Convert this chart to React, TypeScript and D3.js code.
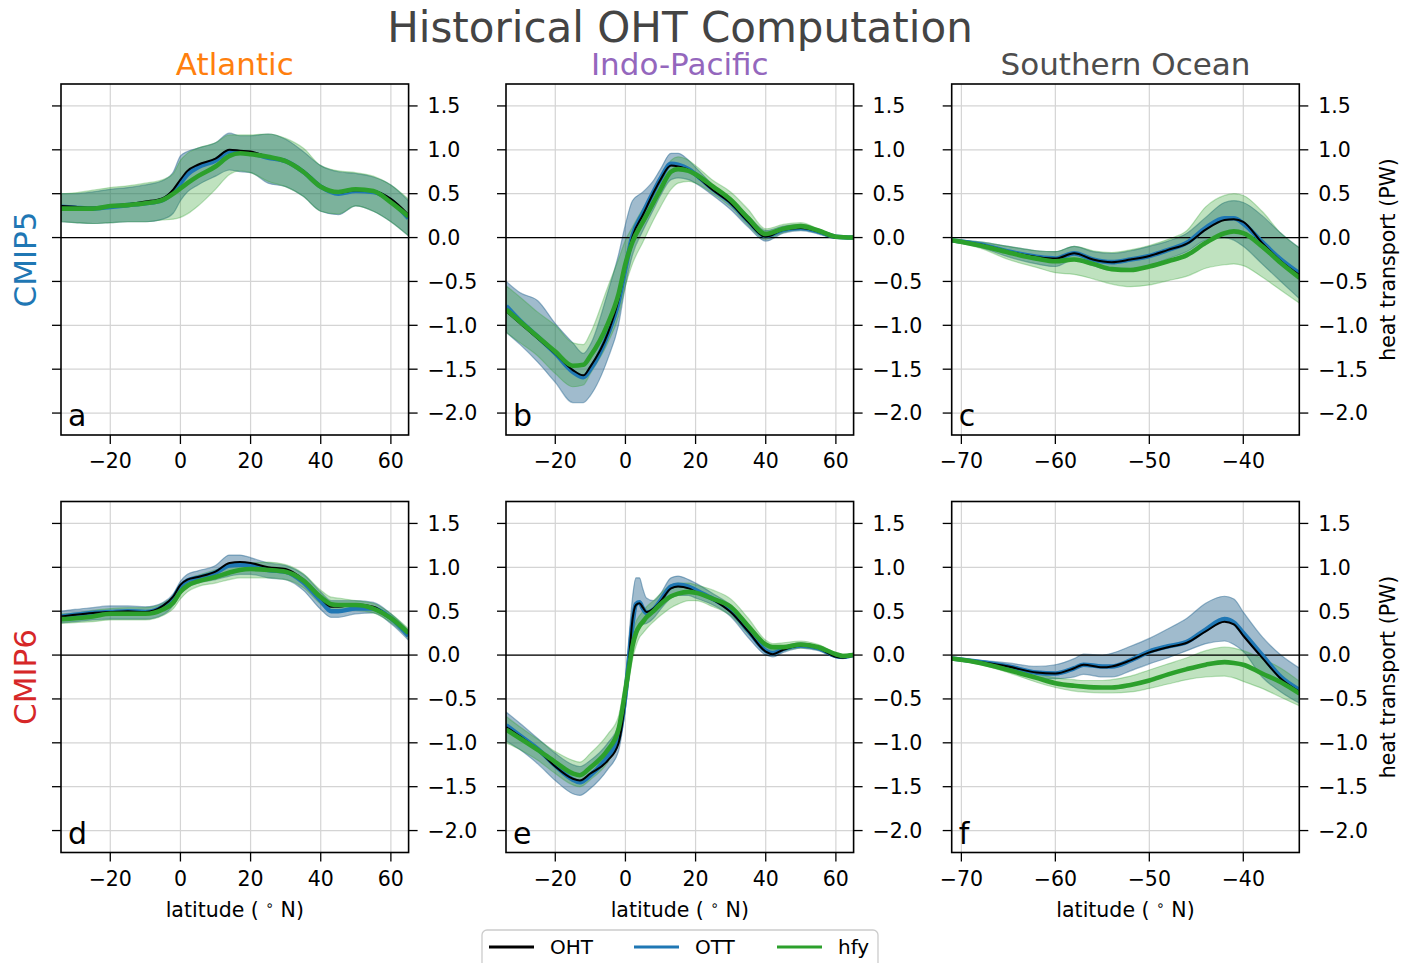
import { useRef, useEffect } from "react"
import * as d3 from "d3"

// ---- latitude grids (deg N) ----
const latA5 = [-34, -30, -25, -20, -15, -10, -5, -2, 0, 2, 5, 10, 14, 17, 20, 25, 30, 35, 40, 45, 50, 55, 60, 65]
const latA6 = [-34, -30, -25, -20, -15, -10, -5, -2, 0, 2, 5, 10, 14, 17, 20, 25, 30, 35, 40, 43, 45, 50, 55, 60, 65]
const latP5 = [-34, -30, -25, -20, -15, -12, -10, -5, -2, 0, 2, 5, 8, 10, 13, 15, 18, 20, 25, 30, 35, 40, 45, 50, 55, 60, 65]
const latP6 = [-34, -30, -25, -20, -15, -13, -10, -5, -2, 0, 1, 2, 3, 4, 5, 6, 8, 10, 13, 15, 18, 20, 25, 30, 35, 40, 42, 45, 50, 55, 60, 62, 65]
const latS5 = [-71, -68, -65, -62, -60, -58, -56, -54, -52, -50, -48, -46, -44, -42, -41, -40, -38, -36, -34]
const latS6 = [-71, -68, -65, -62, -60, -58, -57, -55, -54, -52, -50, -48, -46, -44, -42, -41, -40, -38, -36, -34]

// ---- CMIP5 Atlantic (a) ----
const ohtA5 = [0.36, 0.35, 0.34, 0.36, 0.38, 0.41, 0.45, 0.55, 0.66, 0.76, 0.83, 0.9, 1.0, 0.99, 0.98, 0.92, 0.88, 0.76, 0.59, 0.51, 0.54, 0.53, 0.44, 0.26]
const ottA5 = [0.35, 0.34, 0.33, 0.35, 0.37, 0.39, 0.43, 0.52, 0.62, 0.72, 0.8, 0.88, 0.98, 0.97, 0.96, 0.91, 0.87, 0.75, 0.58, 0.5, 0.53, 0.52, 0.42, 0.22]
const hfyA5 = [0.33, 0.33, 0.33, 0.36, 0.37, 0.39, 0.43, 0.5, 0.56, 0.62, 0.7, 0.81, 0.93, 0.96, 0.95, 0.92, 0.87, 0.75, 0.58, 0.52, 0.55, 0.53, 0.4, 0.24]
const modelHiA5 = [0.5, 0.5, 0.52, 0.55, 0.57, 0.6, 0.65, 0.75, 0.93, 0.98, 1.02, 1.08, 1.19, 1.16, 1.16, 1.18, 1.12, 0.98, 0.82, 0.75, 0.73, 0.69, 0.6, 0.42]
const modelLoA5 = [0.18, 0.17, 0.16, 0.17, 0.18, 0.18, 0.21, 0.28, 0.42, 0.52, 0.6, 0.7, 0.77, 0.75, 0.74, 0.62, 0.58, 0.47, 0.3, 0.26, 0.36, 0.3, 0.18, 0.02]
const hfyHiA5 = [0.5, 0.51, 0.54, 0.57, 0.59, 0.62, 0.66, 0.73, 0.88, 0.96, 1.02, 1.08, 1.17, 1.17, 1.17, 1.18, 1.13, 1.02, 0.82, 0.76, 0.74, 0.7, 0.6, 0.44]
const hfyLoA5 = [0.18, 0.17, 0.16, 0.17, 0.18, 0.18, 0.2, 0.21, 0.23, 0.27, 0.36, 0.55, 0.72, 0.76, 0.74, 0.64, 0.58, 0.47, 0.3, 0.27, 0.36, 0.3, 0.18, 0.02]

// ---- CMIP5 Indo-Pacific (b) ----
const ohtP5 = [-0.84, -0.98, -1.15, -1.32, -1.51, -1.57, -1.47, -1.09, -0.71, -0.33, 0.01, 0.26, 0.51, 0.66, 0.82, 0.81, 0.77, 0.71, 0.54, 0.39, 0.18, 0.01, 0.09, 0.11, 0.07, 0.0, 0.0]
const ottP5 = [-0.78, -0.95, -1.13, -1.32, -1.53, -1.59, -1.5, -1.1, -0.74, -0.35, 0.02, 0.28, 0.52, 0.67, 0.84, 0.83, 0.78, 0.72, 0.55, 0.4, 0.19, 0.02, 0.09, 0.11, 0.07, 0.01, 0.0]
const hfyP5 = [-0.82, -0.96, -1.13, -1.3, -1.46, -1.45, -1.35, -0.98, -0.65, -0.3, -0.05, 0.18, 0.4, 0.55, 0.75, 0.78, 0.76, 0.72, 0.58, 0.43, 0.22, 0.04, 0.1, 0.13, 0.08, 0.01, 0.0]
const modelHiP5 = [-0.5, -0.63, -0.72, -0.98, -1.2, -1.32, -1.22, -0.62, -0.2, 0.15, 0.42, 0.52, 0.65, 0.78, 0.96, 0.96, 0.88, 0.8, 0.6, 0.45, 0.25, 0.08, 0.13, 0.15, 0.09, 0.02, 0.01]
const modelLoP5 = [-1.08, -1.22, -1.42, -1.65, -1.88, -1.88, -1.8, -1.38, -1.0, -0.55, -0.2, 0.08, 0.32, 0.48, 0.66, 0.68, 0.66, 0.62, 0.48, 0.32, 0.12, -0.04, 0.05, 0.08, 0.04, -0.01, -0.01]
const hfyHiP5 = [-0.55, -0.68, -0.85, -1.0, -1.2, -1.22, -1.09, -0.56, -0.25, -0.03, 0.12, 0.33, 0.5, 0.65, 0.88, 0.92, 0.88, 0.82, 0.65, 0.52, 0.32, 0.1, 0.15, 0.17, 0.1, 0.02, 0.01]
const hfyLoP5 = [-1.08, -1.2, -1.35, -1.55, -1.7, -1.68, -1.55, -1.2, -0.9, -0.55, -0.3, -0.05, 0.2, 0.35, 0.55, 0.62, 0.64, 0.62, 0.5, 0.35, 0.14, -0.02, 0.06, 0.09, 0.05, -0.01, -0.01]

// ---- CMIP5 Southern Ocean (c) ----
const ohtS5 = [-0.03, -0.08, -0.16, -0.22, -0.24, -0.18, -0.25, -0.28, -0.25, -0.21, -0.14, -0.07, 0.09, 0.2, 0.21, 0.18, -0.06, -0.27, -0.43]
const ottS5 = [-0.03, -0.08, -0.16, -0.22, -0.24, -0.18, -0.25, -0.28, -0.25, -0.21, -0.14, -0.06, 0.11, 0.22, 0.22, 0.16, -0.05, -0.25, -0.41]
const hfyS5 = [-0.03, -0.09, -0.17, -0.24, -0.27, -0.25, -0.3, -0.36, -0.37, -0.33, -0.27, -0.2, -0.06, 0.05, 0.07, 0.05, -0.1, -0.29, -0.46]
const modelHiS5 = [-0.02, -0.05, -0.1, -0.15, -0.16, -0.1, -0.16, -0.18, -0.15, -0.1, -0.04, 0.05, 0.23, 0.4, 0.42, 0.4, 0.25, 0.05, -0.12]
const modelLoS5 = [-0.04, -0.11, -0.22, -0.3, -0.33, -0.25, -0.32, -0.37, -0.36, -0.32, -0.24, -0.16, -0.03, 0.0, -0.03, -0.1, -0.3, -0.5, -0.7]
const hfyHiS5 = [-0.02, -0.05, -0.1, -0.15, -0.16, -0.1, -0.15, -0.17, -0.14, -0.09, -0.02, 0.08, 0.35, 0.48, 0.5, 0.48, 0.3, 0.05, -0.12]
const hfyLoS5 = [-0.05, -0.12, -0.25, -0.34, -0.4, -0.42, -0.47, -0.53, -0.56, -0.54, -0.49, -0.44, -0.35, -0.31, -0.3, -0.32, -0.45, -0.6, -0.75]

// ---- CMIP6 Atlantic (d) ----
const ohtA6 = [0.44, 0.46, 0.48, 0.49, 0.5, 0.49, 0.56, 0.67, 0.8, 0.86, 0.89, 0.95, 1.05, 1.06, 1.05, 1.0, 0.98, 0.86, 0.65, 0.55, 0.55, 0.58, 0.55, 0.42, 0.25]
const ottA6 = [0.44, 0.46, 0.48, 0.49, 0.5, 0.49, 0.55, 0.65, 0.78, 0.85, 0.88, 0.94, 1.02, 1.03, 1.02, 0.97, 0.95, 0.83, 0.62, 0.5, 0.5, 0.53, 0.53, 0.42, 0.22]
const hfyA6 = [0.41, 0.42, 0.44, 0.47, 0.47, 0.47, 0.52, 0.6, 0.72, 0.79, 0.84, 0.89, 0.94, 0.97, 0.98, 0.97, 0.95, 0.85, 0.66, 0.58, 0.57, 0.57, 0.53, 0.42, 0.25]
const modelHiA6 = [0.5, 0.52, 0.54, 0.56, 0.56, 0.55, 0.6, 0.7, 0.84, 0.92, 0.96, 1.02, 1.14, 1.14, 1.11, 1.05, 1.02, 0.92, 0.72, 0.62, 0.62, 0.62, 0.6, 0.47, 0.28]
const modelLoA6 = [0.37, 0.38, 0.4, 0.41, 0.41, 0.41, 0.46, 0.57, 0.7, 0.77, 0.82, 0.86, 0.9, 0.92, 0.92, 0.88, 0.86, 0.74, 0.52, 0.43, 0.43, 0.47, 0.48, 0.36, 0.17]
const hfyHiA6 = [0.47, 0.48, 0.51, 0.53, 0.54, 0.54, 0.59, 0.67, 0.78, 0.86, 0.91, 0.97, 1.02, 1.04, 1.05, 1.06, 1.03, 0.93, 0.74, 0.66, 0.65, 0.62, 0.59, 0.47, 0.3]
const hfyLoA6 = [0.36, 0.37, 0.38, 0.4, 0.4, 0.4, 0.45, 0.53, 0.64, 0.72, 0.78, 0.82, 0.86, 0.88, 0.88, 0.88, 0.86, 0.77, 0.58, 0.5, 0.5, 0.51, 0.48, 0.37, 0.2]

// ---- CMIP6 Indo-Pacific (e) ----
const ohtP6 = [-0.82, -0.93, -1.08, -1.27, -1.41, -1.43, -1.35, -1.2, -1.01, -0.48, -0.06, 0.4, 0.57, 0.59, 0.54, 0.49, 0.53, 0.61, 0.76, 0.78, 0.76, 0.72, 0.63, 0.49, 0.27, 0.04, 0.01, 0.06, 0.11, 0.08, -0.02, -0.03, 0.0]
const ottP6 = [-0.8, -0.92, -1.07, -1.26, -1.42, -1.45, -1.37, -1.15, -0.95, -0.45, -0.05, 0.35, 0.58, 0.6, 0.53, 0.48, 0.52, 0.62, 0.78, 0.8, 0.78, 0.74, 0.64, 0.51, 0.28, 0.05, 0.02, 0.07, 0.11, 0.08, -0.01, -0.02, 0.0]
const hfyP6 = [-0.85, -0.95, -1.08, -1.22, -1.35, -1.37, -1.28, -1.08, -0.85, -0.4, -0.15, 0.1, 0.25, 0.33, 0.38, 0.43, 0.5, 0.58, 0.67, 0.7, 0.72, 0.71, 0.64, 0.55, 0.33, 0.12, 0.09, 0.09, 0.12, 0.09, 0.01, -0.01, 0.0]
const modelHiP6 = [-0.65, -0.78, -0.95, -1.12, -1.25, -1.27, -1.2, -1.0, -0.8, -0.3, 0.2, 0.65, 0.88, 0.88, 0.75, 0.65, 0.62, 0.7, 0.88, 0.9, 0.86, 0.82, 0.7, 0.57, 0.35, 0.1, 0.06, 0.1, 0.14, 0.1, 0.01, 0.0, 0.01]
const modelLoP6 = [-0.98, -1.08, -1.24, -1.43, -1.58, -1.6, -1.52, -1.3, -1.1, -0.6, -0.25, 0.05, 0.25, 0.32, 0.35, 0.36, 0.42, 0.52, 0.65, 0.68, 0.68, 0.65, 0.57, 0.44, 0.2, 0.0, -0.02, 0.03, 0.08, 0.05, -0.03, -0.04, -0.01]
const hfyHiP6 = [-0.7, -0.82, -0.96, -1.1, -1.2, -1.22, -1.12, -0.9, -0.7, -0.25, 0.0, 0.25, 0.38, 0.45, 0.5, 0.55, 0.62, 0.7, 0.8, 0.82, 0.82, 0.8, 0.74, 0.64, 0.42, 0.17, 0.13, 0.14, 0.16, 0.12, 0.03, 0.01, 0.01]
const hfyLoP6 = [-1.0, -1.08, -1.2, -1.35, -1.48, -1.5, -1.42, -1.22, -1.0, -0.55, -0.3, -0.05, 0.1, 0.2, 0.25, 0.3, 0.38, 0.45, 0.54, 0.58, 0.62, 0.62, 0.55, 0.45, 0.24, 0.06, 0.04, 0.05, 0.08, 0.06, -0.01, -0.02, -0.01]

// ---- CMIP6 Southern Ocean (f) ----
const ohtS6 = [-0.04, -0.08, -0.13, -0.2, -0.21, -0.15, -0.11, -0.14, -0.13, -0.06, 0.03, 0.09, 0.14, 0.27, 0.38, 0.35, 0.22, -0.03, -0.27, -0.42]
const ottS6 = [-0.04, -0.08, -0.13, -0.2, -0.21, -0.15, -0.11, -0.13, -0.13, -0.06, 0.04, 0.1, 0.15, 0.29, 0.41, 0.37, 0.25, 0.0, -0.25, -0.4]
const hfyS6 = [-0.04, -0.09, -0.17, -0.26, -0.32, -0.35, -0.36, -0.37, -0.37, -0.34, -0.29, -0.22, -0.16, -0.11, -0.08, -0.09, -0.11, -0.21, -0.31, -0.44]
const modelHiS6 = [-0.03, -0.06, -0.09, -0.13, -0.11, -0.04, 0.01, 0.0, 0.02, 0.1, 0.19, 0.3, 0.42, 0.59, 0.67, 0.64, 0.49, 0.21, 0.0, -0.15]
const modelLoS6 = [-0.05, -0.1, -0.17, -0.26, -0.27, -0.25, -0.22, -0.25, -0.25, -0.18, -0.1, -0.03, 0.05, 0.13, 0.16, 0.12, 0.04, -0.25, -0.42, -0.55]
const hfyHiS6 = [-0.03, -0.07, -0.13, -0.21, -0.26, -0.28, -0.29, -0.29, -0.28, -0.24, -0.17, -0.1, -0.03, 0.05, 0.09, 0.08, 0.05, -0.04, -0.15, -0.3]
const hfyLoS6 = [-0.05, -0.11, -0.2, -0.31, -0.37, -0.41, -0.42, -0.43, -0.43, -0.42, -0.38, -0.33, -0.28, -0.25, -0.24, -0.26, -0.3, -0.38, -0.48, -0.58]

// ---- labels / ticks ----
const basinTitles = ["Atlantic", "Indo-Pacific", "Southern Ocean"]
const basinColors = ["#ff7f0e", "#9467bd", "#4d4d4d"]
const rowTitles = ["CMIP5", "CMIP6"]
const rowColors = ["#1f77b4", "#d62728"]
const panelLetters = ["a", "b", "c", "d", "e", "f"]
const legendLabels = ["OHT", "OTT", "hfy"]
const yTicks = [-2, -1.5, -1, -0.5, 0, 0.5, 1, 1.5]
const xTicksBasin = [-20, 0, 20, 40, 60]
const xTicksSO = [-70, -60, -50, -40]

type Pt = { x: number; y: number }

export default function App() {
  const svgRef = useRef<SVGSVGElement | null>(null)

  useEffect(() => {
    if (!svgRef.current) return
    const svg = d3.select(svgRef.current)
    svg.selectAll("*").remove()

    const font = "DejaVu Sans, sans-serif"
    const small = 20.5
    const lineColors = ["#000000", "#1f77b4", "#2ca02c"]

    const panels = [
      { lat: latA5, oht: ohtA5, ott: ottA5, hfy: hfyA5, mLo: modelLoA5, mHi: modelHiA5, hLo: hfyLoA5, hHi: hfyHiA5 },
      { lat: latP5, oht: ohtP5, ott: ottP5, hfy: hfyP5, mLo: modelLoP5, mHi: modelHiP5, hLo: hfyLoP5, hHi: hfyHiP5 },
      { lat: latS5, oht: ohtS5, ott: ottS5, hfy: hfyS5, mLo: modelLoS5, mHi: modelHiS5, hLo: hfyLoS5, hHi: hfyHiS5 },
      { lat: latA6, oht: ohtA6, ott: ottA6, hfy: hfyA6, mLo: modelLoA6, mHi: modelHiA6, hLo: hfyLoA6, hHi: hfyHiA6 },
      { lat: latP6, oht: ohtP6, ott: ottP6, hfy: hfyP6, mLo: modelLoP6, mHi: modelHiP6, hLo: hfyLoP6, hHi: hfyHiP6 },
      { lat: latS6, oht: ohtS6, ott: ottS6, hfy: hfyS6, mLo: modelLoS6, mHi: modelHiS6, hLo: hfyLoS6, hHi: hfyHiS6 },
    ]

    const colLeft = [61, 506, 951.7]
    const rowTop = [84, 501.5]
    const pw = 347.6
    const ph = 351

    const fmtY = d3.format(".1f")
    const fmtX = d3.format("d")

    // Title
    svg
      .append("text")
      .attr("x", 680)
      .attr("y", 42)
      .attr("text-anchor", "middle")
      .attr("font-family", font)
      .attr("font-size", 42)
      .attr("fill", "#444444")
      .text("Historical OHT Computation")

    panels.forEach((p, i) => {
      const row = Math.floor(i / 3)
      const col = i % 3
      const left = colLeft[col]
      const top = rowTop[row]
      const isSO = col === 2

      const x = d3
        .scaleLinear()
        .domain(isSO ? [-71.03, -34.04] : [-34.05, 65.05])
        .range([left, left + pw])
      const y = d3.scaleLinear().domain([-2.25, 1.75]).range([top + ph, top])
      const xTicks = isSO ? xTicksSO : xTicksBasin

      const g = svg.append("g")
      const clipId = `clip-${i}`
      g.append("clipPath")
        .attr("id", clipId)
        .append("rect")
        .attr("x", left)
        .attr("y", top)
        .attr("width", pw)
        .attr("height", ph)

      // grid
      g.selectAll(".gx")
        .data(xTicks)
        .enter()
        .append("line")
        .attr("x1", (d) => x(d))
        .attr("x2", (d) => x(d))
        .attr("y1", top)
        .attr("y2", top + ph)
        .attr("stroke", "#d4d4d4")
        .attr("stroke-width", 1.2)
      g.selectAll(".gy")
        .data(yTicks)
        .enter()
        .append("line")
        .attr("x1", left)
        .attr("x2", left + pw)
        .attr("y1", (d) => y(d))
        .attr("y2", (d) => y(d))
        .attr("stroke", "#d4d4d4")
        .attr("stroke-width", 1.2)

      const plot = g.append("g").attr("clip-path", `url(#${clipId})`)

      const band = (lo: number[], hi: number[]) =>
        p.lat.map((la, k) => ({ x: la, lo: lo[k], hi: hi[k] }))
      const area = d3
        .area<{ x: number; lo: number; hi: number }>()
        .x((d) => x(d.x))
        .y0((d) => y(d.lo))
        .y1((d) => y(d.hi))
        .curve(d3.curveMonotoneX)

      // spread bands: OHT (black), OTT (blue), hfy (green)
      const bands = [
        { data: band(p.mLo, p.mHi), color: "0,0,0", a: 0.15 },
        { data: band(p.mLo, p.mHi), color: "31,119,180", a: 0.3 },
        { data: band(p.hLo, p.hHi), color: "44,160,44", a: 0.3 },
      ]
      bands.forEach((b) => {
        plot
          .append("path")
          .datum(b.data)
          .attr("d", area)
          .attr("fill", `rgba(${b.color},${b.a})`)
          .attr("stroke", `rgba(${b.color},${b.a})`)
          .attr("stroke-width", 1.2)
      })

      // zero line
      plot
        .append("line")
        .attr("x1", left)
        .attr("x2", left + pw)
        .attr("y1", y(0))
        .attr("y2", y(0))
        .attr("stroke", "#000")
        .attr("stroke-width", 1.2)

      const line = d3
        .line<Pt>()
        .x((d) => x(d.x))
        .y((d) => y(d.y))
        .curve(d3.curveMonotoneX)
      const series = [
        { vals: p.ott, color: lineColors[1], w: 4.6 },
        { vals: p.oht, color: lineColors[0], w: 2 },
        { vals: p.hfy, color: lineColors[2], w: 4.6 },
      ]
      series.forEach((s) => {
        plot
          .append("path")
          .datum(p.lat.map((la, k) => ({ x: la, y: s.vals[k] })))
          .attr("d", line)
          .attr("fill", "none")
          .attr("stroke", s.color)
          .attr("stroke-width", s.w)
          .attr("stroke-linejoin", "round")
      })

      // frame
      g.append("rect")
        .attr("x", left)
        .attr("y", top)
        .attr("width", pw)
        .attr("height", ph)
        .attr("fill", "none")
        .attr("stroke", "#000")
        .attr("stroke-width", 1.6)

      // left ticks (no labels)
      g.selectAll(".tl")
        .data(yTicks)
        .enter()
        .append("line")
        .attr("x1", left - 9)
        .attr("x2", left)
        .attr("y1", (d) => y(d))
        .attr("y2", (d) => y(d))
        .attr("stroke", "#000")
        .attr("stroke-width", 1.3)

      // right ticks + labels
      g.selectAll(".tr")
        .data(yTicks)
        .enter()
        .append("line")
        .attr("x1", left + pw)
        .attr("x2", left + pw + 9)
        .attr("y1", (d) => y(d))
        .attr("y2", (d) => y(d))
        .attr("stroke", "#000")
        .attr("stroke-width", 1.3)
      g.selectAll(".trl")
        .data(yTicks)
        .enter()
        .append("text")
        .attr("x", left + pw + 19)
        .attr("y", (d) => y(d))
        .attr("dy", "0.36em")
        .attr("font-family", font)
        .attr("font-size", small)
        .attr("fill", "#000")
        .text((d) => fmtY(d))

      // bottom ticks + labels
      g.selectAll(".tb")
        .data(xTicks)
        .enter()
        .append("line")
        .attr("x1", (d) => x(d))
        .attr("x2", (d) => x(d))
        .attr("y1", top + ph)
        .attr("y2", top + ph + 9)
        .attr("stroke", "#000")
        .attr("stroke-width", 1.3)
      g.selectAll(".tbl")
        .data(xTicks)
        .enter()
        .append("text")
        .attr("x", (d) => x(d))
        .attr("y", top + ph + 33)
        .attr("text-anchor", "middle")
        .attr("font-family", font)
        .attr("font-size", small)
        .attr("fill", "#000")
        .text((d) => fmtX(d))

      // panel letter
      g.append("text")
        .attr("x", left + 7)
        .attr("y", top + ph - 9)
        .attr("font-family", font)
        .attr("font-size", 30)
        .attr("fill", "#000")
        .text(panelLetters[i])

      // column titles
      if (row === 0) {
        g.append("text")
          .attr("x", left + pw / 2)
          .attr("y", top - 9)
          .attr("text-anchor", "middle")
          .attr("font-family", font)
          .attr("font-size", 31)
          .attr("fill", basinColors[col])
          .text(basinTitles[col])
      }

      // row labels
      if (col === 0) {
        g.append("text")
          .attr("transform", `translate(36,${top + ph / 2}) rotate(-90)`)
          .attr("text-anchor", "middle")
          .attr("font-family", font)
          .attr("font-size", 31)
          .attr("fill", rowColors[row])
          .text(rowTitles[row])
      }

      // right y label
      if (isSO) {
        g.append("text")
          .attr("transform", `translate(1395,${top + ph / 2}) rotate(-90)`)
          .attr("text-anchor", "middle")
          .attr("font-family", font)
          .attr("font-size", small)
          .attr("fill", "#000")
          .text("heat transport (PW)")
      }

      // x label
      if (row === 1) {
        const t = g
          .append("text")
          .attr("x", left + pw / 2)
          .attr("y", top + ph + 64)
          .attr("text-anchor", "middle")
          .attr("font-family", font)
          .attr("font-size", small)
          .attr("fill", "#000")
        t.append("tspan").text("latitude ( ")
        t.append("tspan").attr("font-size", 14).attr("dy", -7).text("∘")
        t.append("tspan").attr("dy", 7).text(" N)")
      }
    })

    // legend
    const lg = svg.append("g")
    lg.append("rect")
      .attr("x", 482)
      .attr("y", 930)
      .attr("width", 396)
      .attr("height", 48)
      .attr("rx", 5)
      .attr("fill", "#fff")
      .attr("stroke", "#cccccc")
      .attr("stroke-width", 1.3)
    const legX = [489, 634, 777]
    legendLabels.forEach((lab, k) => {
      lg.append("line")
        .attr("x1", legX[k])
        .attr("x2", legX[k] + 45)
        .attr("y1", 947)
        .attr("y2", 947)
        .attr("stroke", lineColors[k])
        .attr("stroke-width", 3)
      lg.append("text")
        .attr("x", legX[k] + 61)
        .attr("y", 954)
        .attr("font-family", font)
        .attr("font-size", 20)
        .attr("fill", "#000")
        .text(lab)
    })
  }, [])

  return (
    <svg
      ref={svgRef}
      width={1414}
      height={963}
      style={{ position: "absolute", left: 0, top: 0, background: "#fff" }}
    ></svg>
  )
}
